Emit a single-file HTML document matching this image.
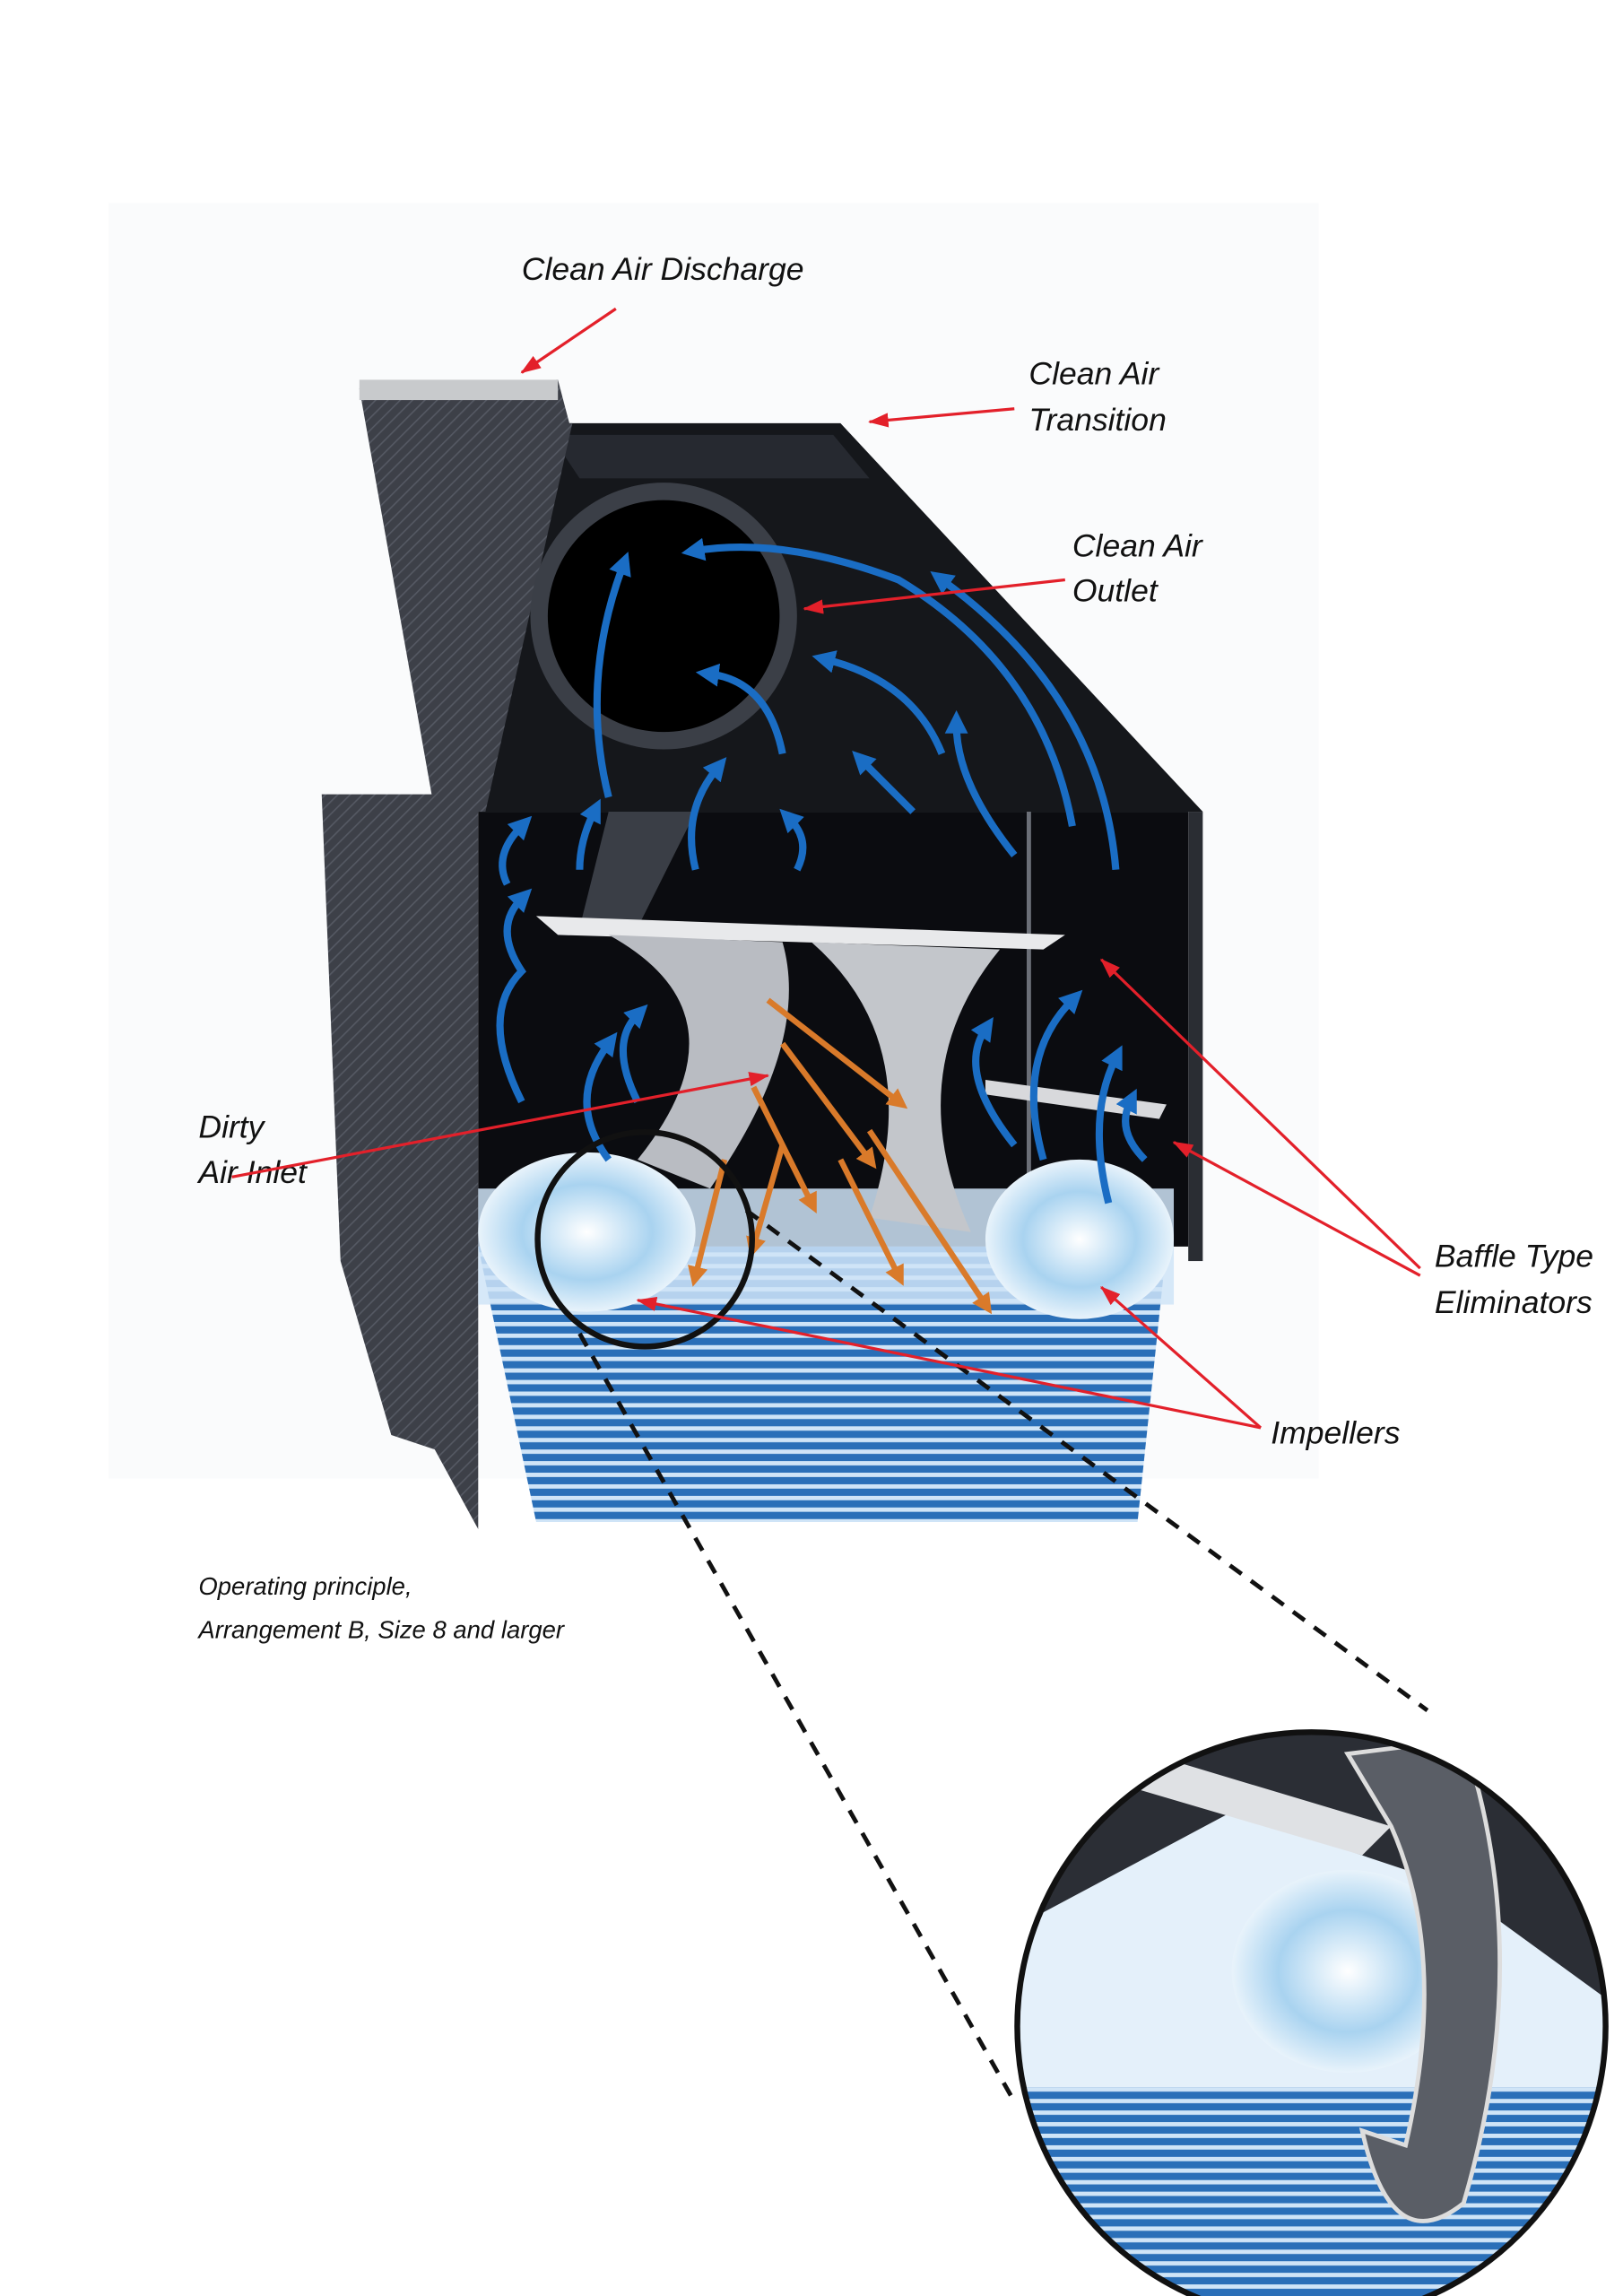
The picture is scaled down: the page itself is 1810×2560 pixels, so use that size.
<!DOCTYPE html>
<html><head><meta charset="utf-8"><style>
html,body{margin:0;padding:0;background:#fff;}
svg{display:block;}
text{font-family:"Liberation Sans",sans-serif;font-style:italic;fill:#111;}
</style></head><body>
<svg width="1810" height="2560" viewBox="0 0 1120 1584" preserveAspectRatio="none" xmlns="http://www.w3.org/2000/svg">
<defs>
<pattern id="hatch" width="6" height="6" patternUnits="userSpaceOnUse" patternTransform="rotate(45)">
<rect width="6" height="6" fill="#3d4048"/><line x1="0" y1="0" x2="0" y2="6" stroke="#555963" stroke-width="2"/>
</pattern>
<pattern id="water" width="10" height="8" patternUnits="userSpaceOnUse">
<rect width="10" height="8" fill="#2a6fb8"/><rect y="0" width="10" height="3" fill="#cfe4f7"/>
</pattern>
<radialGradient id="swirl" cx="0.5" cy="0.5" r="0.5">
<stop offset="0" stop-color="#ffffff"/><stop offset="0.6" stop-color="#a9d3f0"/><stop offset="1" stop-color="#e8f3fb"/>
</radialGradient>
<marker id="ra" markerUnits="userSpaceOnUse" markerWidth="14" markerHeight="10" refX="13" refY="5" orient="auto"><path d="M0,0 L14,5 L0,10 z" fill="#e3202a"/></marker>
<marker id="ba" markerUnits="userSpaceOnUse" markerWidth="16" markerHeight="16" refX="6" refY="8" orient="auto"><path d="M0,0 L16,8 L0,16 z" fill="#1a6dc4"/></marker>
<marker id="oa" markerUnits="userSpaceOnUse" markerWidth="14" markerHeight="14" refX="6" refY="7" orient="auto"><path d="M0,0 L14,7 L0,14 z" fill="#d97a2a"/></marker>
<clipPath id="zc"><circle cx="905" cy="1398" r="203"/></clipPath>
</defs>
<rect x="75" y="140" width="835" height="880" fill="#fafbfc"/>
<polygon points="248,268 385,262 395,300 330,560 300,560" fill="url(#hatch)"/>
<rect x="248" y="262" width="137" height="14" fill="#c8cacc"/>
<polygon points="330,560 390,292 580,292 830,560" fill="#15171b"/>
<polygon points="380,300 575,300 600,330 400,330" fill="#262930"/>
<polygon points="300,560 380,292 395,292 335,560" fill="url(#hatch)"/>
<circle cx="458" cy="425" r="92" fill="#3b3f47"/>
<circle cx="458" cy="425" r="80" fill="#000"/>
<polygon points="222,548 330,548 330,1055 300,1000 270,990 235,870" fill="url(#hatch)"/>
<rect x="330" y="560" width="490" height="300" fill="#0b0c10"/>
<polygon points="420,560 480,560 440,640 400,640" fill="#3a3e46"/>
<rect x="820" y="560" width="10" height="310" fill="#2a2d33"/>
<line x1="710" y1="560" x2="710" y2="860" stroke="#6b6f77" stroke-width="3"/>
<polygon points="330,860 805,860 785,1050 370,1050" fill="url(#water)"/>
<rect x="330" y="820" width="480" height="80" fill="#cfe4f7" opacity="0.85"/>
<polygon points="370,632 735,645 720,655 385,645" fill="#e8e9eb"/>
<path d="M420,645 Q520,700 440,800 L490,820 Q560,720 540,650 Z" fill="#b9bcc2"/>
<path d="M560,650 Q640,720 600,840 L670,850 Q620,740 690,655 Z" fill="#c3c6cb"/>
<polygon points="680,745 805,762 800,772 680,755" fill="#d8d9dc"/>
<ellipse cx="405" cy="850" rx="75" ry="55" fill="url(#swirl)"/>
<ellipse cx="745" cy="855" rx="65" ry="55" fill="url(#swirl)"/>
<g stroke="#d97a2a" stroke-width="4" fill="none" marker-end="url(#oa)">
<path d="M530,690 L620,760"/><path d="M540,720 L600,800"/><path d="M520,750 L560,830"/>
<path d="M500,800 L480,880"/><path d="M540,790 L520,860"/><path d="M600,780 L680,900"/><path d="M580,800 L620,880"/>
</g>
<g stroke="#1a6dc4" stroke-width="5" fill="none" marker-end="url(#ba)">
<path d="M350,610 Q340,590 360,570"/><path d="M400,600 Q400,580 410,560"/><path d="M480,600 Q470,560 495,530"/>
<path d="M420,550 Q400,470 430,390"/><path d="M540,520 Q530,470 490,465"/><path d="M650,520 Q630,470 570,455"/>
<path d="M630,560 Q610,540 595,525"/><path d="M700,590 Q660,540 660,500"/><path d="M770,600 Q760,480 650,400"/>
<path d="M740,570 Q720,460 620,400 Q540,370 480,380"/><path d="M550,600 Q560,580 545,565"/>
<path d="M360,760 Q330,700 360,670 Q340,640 360,620"/><path d="M440,760 Q420,720 440,700"/>
<path d="M420,800 Q390,760 420,720"/><path d="M700,790 Q660,740 680,710"/><path d="M720,800 Q700,730 740,690"/>
<path d="M765,830 Q750,770 770,730"/><path d="M790,800 Q770,780 780,760"/>
</g>
<circle cx="445" cy="855" r="74" fill="none" stroke="#111" stroke-width="4"/>
<line x1="400" y1="920" x2="700" y2="1450" stroke="#111" stroke-width="3" stroke-dasharray="10,8"/>
<line x1="515" y1="835" x2="985" y2="1180" stroke="#111" stroke-width="3" stroke-dasharray="10,8"/>
<g clip-path="url(#zc)">
<rect x="700" y="1190" width="410" height="410" fill="#2b2e35"/>
<polygon points="700,1330 850,1250 1000,1300 1110,1380 1110,1600 700,1600" fill="#e4f0fa"/>
<rect x="700" y="1440" width="410" height="160" fill="url(#water)"/>
<ellipse cx="930" cy="1360" rx="80" ry="70" fill="url(#swirl)"/>
<path d="M930,1210 L1010,1200 Q1060,1350 1010,1520 Q960,1560 940,1470 L970,1480 Q1000,1350 960,1260 Z" fill="#5a5e66" stroke="#ddd" stroke-width="3"/>
<path d="M760,1200 L960,1260 L940,1280 L770,1230 Z" fill="#dfe1e4"/>
</g>
<circle cx="905" cy="1398" r="203" fill="none" stroke="#111" stroke-width="4"/>
<text x="360" y="193" font-size="22">Clean Air Discharge</text>
<text x="710" y="265" font-size="22">Clean Air</text><text x="710" y="297" font-size="22">Transition</text>
<text x="740" y="384" font-size="22">Clean Air</text><text x="740" y="415" font-size="22">Outlet</text>
<text x="137" y="785" font-size="22">Dirty</text><text x="137" y="816" font-size="22">Air Inlet</text>
<text x="990" y="874" font-size="22">Baffle Type</text><text x="990" y="906" font-size="22">Eliminators</text>
<text x="877" y="996" font-size="22">Impellers</text>
<text x="137" y="1100" font-size="17">Operating principle,</text>
<text x="137" y="1130" font-size="17">Arrangement B, Size 8 and larger</text>
<g stroke="#e3202a" stroke-width="2" fill="none" marker-end="url(#ra)">
<line x1="425" y1="213" x2="360" y2="257"/>
<line x1="700" y1="282" x2="600" y2="291"/>
<line x1="735" y1="400" x2="555" y2="420"/>
<line x1="160" y1="812" x2="530" y2="742"/>
<line x1="980" y1="875" x2="760" y2="662"/>
<line x1="980" y1="880" x2="810" y2="788"/>
<line x1="870" y1="985" x2="440" y2="897"/>
<line x1="870" y1="985" x2="760" y2="888"/>
</g>
</svg>
</body></html>
